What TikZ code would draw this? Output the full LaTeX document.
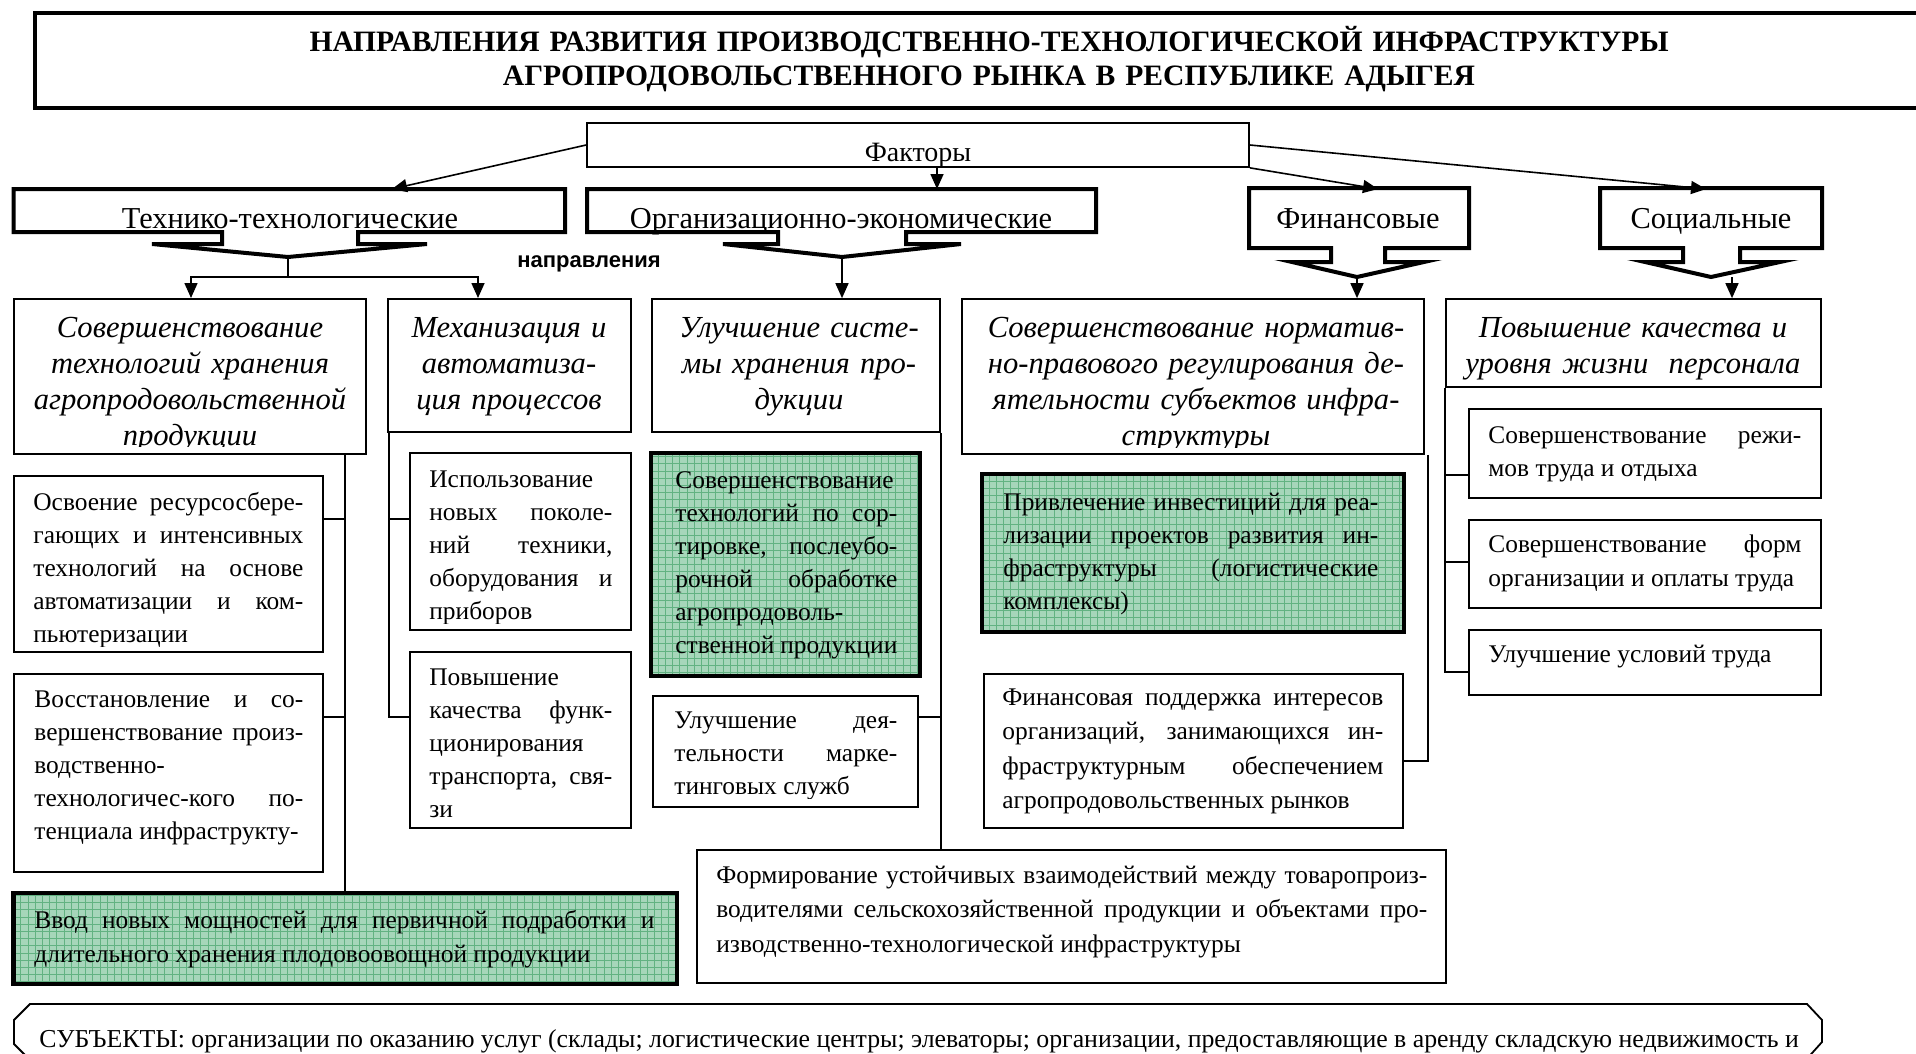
\documentclass[tikz,border=0pt]{standalone}
\usepackage{fontspec}
\setmainfont{Liberation Serif}
\newfontfamily\dirsans{Liberation Sans}
\usetikzlibrary{arrows.meta,calc,fit}
\definecolor{gfill}{RGB}{166,214,186}
\definecolor{ggrid}{RGB}{98,178,130}
\tolerance=10000 \hbadness=10000 \hyphenpenalty=10000 \exhyphenpenalty=10000
\tikzset{
 frame/.style={draw, line width=0.85pt, inner sep=0pt, fill=white},
 greenbox/.style={draw, line width=2.2pt, inner sep=0pt, fill=gfill,
   path picture={\draw[ggrid, line width=0.35pt, step=3.6pt] (path picture bounding box.south west) grid (path picture bounding box.north east);}},
 callout/.style={draw, line width=2pt, fill=white},
 conn/.style={line width=0.8pt},
 arr/.style={conn, -{Triangle[length=7.5pt,width=6.5pt]}},
 bodytext/.style={inner sep=0pt, align=justify, anchor=base west, font=\fontsize{12.7}{16.5}\selectfont},
 headtext/.style={inner sep=0pt, align=center, anchor=base, font=\fontsize{15.3}{18}\selectfont\itshape},
 factext/.style={inner sep=0pt, anchor=base, font=\fontsize{15.2}{18}\selectfont},
}
\begin{document}
\begin{tikzpicture}[x=0.5pt,y=-0.5pt]
\useasboundingbox (0,0) rectangle (1916,1054);

% title
\node[draw, line width=1.6pt, inner sep=0pt, fit={(35,13) (1960,108)}] (titlebox) {};
\node[inner sep=0pt, align=center, text width=900pt, anchor=base, font=\fontsize{14.8}{17}\selectfont\bfseries] (title) at (989,52)
 {НАПРАВЛЕНИЯ РАЗВИТИЯ ПРОИЗВОДСТВЕННО-ТЕХНОЛОГИЧЕСКОЙ ИНФРАСТРУКТУРЫ\\АГРОПРОДОВОЛЬСТВЕННОГО РЫНКА В РЕСПУБЛИКЕ АДЫГЕЯ};

% factors box
\node[frame, fit={(587,123) (1249,167)}] (fact) {};
\begin{scope}
\clip (587,123) rectangle (1249,166);
\node[inner sep=0pt, anchor=base, font=\fontsize{14}{16}\selectfont] (factT) at (918,162) {Факторы};
\end{scope}

% callouts
\draw[callout] (13.5,189) -- (565,189) -- (565,232) -- (358,232) -- (358,244) -- (427,244) -- (288,257) -- (152,244) -- (222,244) -- (222,232) -- (13.5,232) -- cycle;
\node[factext] (tech) at (290,228) {Технико-технологические};
\coordinate (techTip) at (288,257);

\draw[callout] (587,189) -- (1096,189) -- (1096,232) -- (906,232) -- (906,244) -- (961,244) -- (842,257) -- (723,244) -- (778,244) -- (778,232) -- (587,232) -- cycle;
\node[factext] (org) at (841,228) {Организационно-экономические};
\coordinate (orgTip) at (842,257);

\draw[callout] (1249,188) -- (1469,188) -- (1469,248) -- (1385,248) -- (1385,262) -- (1424,262) -- (1357,277) -- (1292,262) -- (1331,262) -- (1331,248) -- (1249,248) -- cycle;
\node[factext] (fin) at (1358,228) {Финансовые};
\coordinate (finTip) at (1357,277);

\draw[callout] (1600,188) -- (1822,188) -- (1822,248) -- (1740,248) -- (1740,262) -- (1780,262) -- (1711,277) -- (1645,262) -- (1683,262) -- (1683,248) -- (1600,248) -- cycle;
\node[factext] (soc) at (1711,228) {Социальные};
\coordinate (socTip) at (1711,277);
\coordinate (socOut) at (1732,277);

\node[inner sep=0pt, anchor=base, font=\dirsans\bfseries\fontsize{11}{13}\selectfont] (dir) at (589,267) {направления};

% factor arrows
\coordinate (techIn) at (392,189);
\coordinate (orgIn) at (937,189);
\coordinate (finIn) at (1378,189);
\coordinate (socIn) at (1706,189);
\draw[arr] (fact.west) -- (techIn);
\draw[arr] (fact.south -| orgIn) -- (orgIn);
\draw[arr] (fact.south east) -- (finIn);
\draw[arr] (fact.east) -- (socIn);

% second row
\node[frame, fit={(14,299) (366,454)}] (A) {};
\node[frame, fit={(388,299) (631,432)}] (B) {};
\node[frame, fit={(652,299) (940,432)}] (C) {};
\node[frame, fit={(962,299) (1424,454)}] (D) {};
\node[frame, fit={(1446,299) (1821,387)}] (E) {};
\begin{scope}
\clip (14,299) rectangle (366,446);
\node[headtext, text width=170pt] (At) at (190,337) {Совершенствование\\технологий хранения\\агропродовольственной\\продукции};
\end{scope}
\node[headtext, text width=118pt] (Bt) at (509,337) {Механизация и\\автоматиза-\\ция процессов};
\node[headtext, text width=140pt] (Ct) at (799,337) {Улучшение систе-\\мы хранения про-\\дукции};
\begin{scope}
\clip (962,299) rectangle (1424,447);
\node[headtext, text width=228pt] (Dt) at (1196,337) {Совершенствование норматив-\\но-правового регулирования де-\\ятельности субъектов инфра-\\структуры};
\end{scope}
\node[headtext, text width=185pt] (Et) at (1633,337) {Повышение качества и\\уровня жизни\ \ персонала};

\coordinate (techJ) at (288,277);
\coordinate (aIn) at (191,298);
\coordinate (bIn) at (478,298);
\draw[conn] (techTip) -- (techJ);
\draw[arr] (techJ) -| (aIn);
\draw[arr] (techJ) -| (bIn);
\draw[arr] (orgTip) -- (orgTip |- C.north);
\draw[arr] (finTip) -- (finTip |- D.north);
\draw[arr] (socOut) -- (socOut |- E.north);

% body boxes
\node[frame, fit={(14,476) (323,652)}] (F) {};
\begin{scope}
\clip (14,476) rectangle (323,646);
\node[bodytext, text width=135pt] (Ft) at (33,510) {Освоение ресурсосбере-\linebreak гающих и интенсивных\linebreak технологий на основе\linebreak автоматизации и ком-\linebreak пьютеризации};
\end{scope}
\node[frame, fit={(14,674) (323,872)}] (G) {};
\node[bodytext, text width=134.5pt] (Gt) at (34,707) {\parfillskip=0pt Восстановление и со-\linebreak вершенствование произ-\linebreak водственно-\newline технологичес-кого по-\linebreak тенциала инфраструкту-};
\node[frame, fit={(410,453) (631,630)}] (H) {};
\begin{scope}
\clip (410,453) rectangle (631,623);
\node[bodytext, text width=91.5pt] (Ht) at (429,487) {Использование\newline новых поколе-\linebreak ний техники,\linebreak оборудования и\linebreak приборов};
\end{scope}
\node[frame, fit={(410,652) (631,828)}] (I) {};
\node[bodytext, text width=91.5pt] (It) at (429,685) {Повышение\newline качества функ-\linebreak ционирования\newline транспорта, свя-\linebreak зи};
\node[greenbox, fit={(651,453) (920,676)}] (J) {};
\node[bodytext, text width=111pt] (Jt) at (675,488) {Совершенствование\newline технологий по сор-\linebreak тировке, послеубо-\linebreak рочной обработке\linebreak агропродоволь-\newline ственной продукции};
\node[frame, fit={(653,696) (918,807)}] (K) {};
\begin{scope}
\clip (653,696) rectangle (918,798);
\node[bodytext, text width=111.5pt] (Kt) at (674,728) {Улучшение дея-\linebreak тельности марке-\linebreak тинговых служб};
\end{scope}
\node[greenbox, fit={(982,474) (1404,632)}] (L) {};
\node[bodytext, text width=187.5pt] (Lt) at (1003,510) {Привлечение инвестиций для реа-\linebreak лизации проектов развития ин-\linebreak фраструктуры (логистические\linebreak комплексы)};
\node[frame, fit={(984,674) (1403,828)}] (M) {};
\node[bodytext, text width=190.5pt, font=\fontsize{12.7}{17.25}\selectfont] (Mt) at (1002,705) {Финансовая поддержка интересов\linebreak организаций, занимающихся ин-\linebreak фраструктурным обеспечением\linebreak агропродовольственных рынков};
\node[frame, fit={(697,850) (1446,983)}] (N) {};
\node[bodytext, text width=355.5pt, font=\fontsize{12.7}{17.25}\selectfont] (Nt) at (716,883) {Формирование устойчивых взаимодействий между товаропроиз-\linebreak водителями сельскохозяйственной продукции и объектами про-\linebreak изводственно-технологической инфраструктуры};
\node[greenbox, fit={(13.5,893) (677,984)}] (O) {};
\node[bodytext, text width=310pt, font=\fontsize{12.7}{17}\selectfont] (Ot) at (34,928) {Ввод новых мощностей для первичной подработки и\linebreak длительного хранения плодовоовощной продукции};
\node[frame, fit={(1469,409) (1821,498)}] (P) {};
\node[bodytext, text width=156.5pt] (Pt) at (1488,443) {Совершенствование режи-\linebreak мов труда и отдыха};
\node[frame, fit={(1469,520) (1821,608)}] (Q) {};
\node[bodytext, text width=156.5pt, font=\fontsize{12.7}{17}\selectfont] (Qt) at (1488,552) {Совершенствование форм\linebreak организации и оплаты труда};
\node[frame, fit={(1469,630) (1821,695)}] (R) {};
\node[bodytext, text width=156.5pt] (Rt) at (1488,662) {Улучшение условий труда};

% tree connectors
\draw[conn] (A.south -| O.north) -- (O.north);
\draw[conn] ($(F.north east)+(0,44)$) -- ++(22,0);
\draw[conn] ($(G.north east)+(0,44)$) -- ++(22,0);
\draw[conn] ($(B.south west)+(2,0)$) |- ($(I.north west)+(0,66)$);
\draw[conn] ($(H.north west)+(0,67)$) -- ++(-20,0);
\draw[conn] (C.south east) -- (C.south east |- N.north);
\draw[conn] ($(K.north east)+(0,22)$) -- ++(22,0);
\draw[conn] ($(D.south east)+(3,0)$) |- ($(M.north east)+(0,88)$);
\draw[conn] (E.south west) |- ($(R.north west)+(0,43)$);
\draw[conn] ($(P.north west)+(0,67)$) -- ++(-23,0);
\draw[conn] ($(Q.north west)+(0,43)$) -- ++(-23,0);

% subjects
\draw[line width=0.9pt] (30,1004) -- (1807,1004) -- (1822,1020) -- (1822,1042) -- (1804,1062) -- (32,1062) -- (14,1044) -- (14,1020) -- cycle;
\node[inner sep=0pt, anchor=base west, font=\fontsize{12.9}{16}\selectfont] (subj) at (39,1047) {СУБЪЕКТЫ: организации по оказанию услуг (склады; логистические центры; элеваторы; организации, предоставляющие в аренду складскую недвижимость и};
\end{tikzpicture}
\end{document}
